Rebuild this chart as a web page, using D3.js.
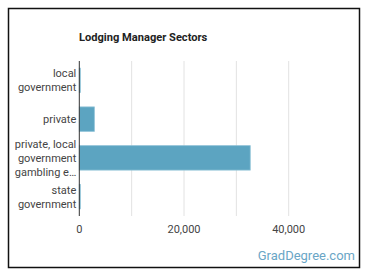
<!DOCTYPE html>
<html>
<head>
<meta charset="utf-8">
<script src="https://cdn.jsdelivr.net/npm/d3@7"></script>
<style>
  body { margin: 0; background: #fff; font-family: Roboto, "Noto Sans", sans-serif; }
</style>
</head>
<body>
<div id="chart"></div>
<script>
var sectors = [["local", "government"], ["private"], ["private, local", "government", "gambling e…"], ["state", "government"]];
var workers = [150, 2870, 32650, 180];
var xTicks = [0, 20000, 40000];
var gridTicks = [10000, 20000, 30000, 40000];

var width = 370, height = 278;
var margin = {left: 79, top: 61, right: 29, bottom: 62};

var svg = d3.select("#chart").append("svg")
    .attr("width", width)
    .attr("height", height);

// outer frame
svg.append("rect")
    .attr("x", 8.5).attr("y", 8.5)
    .attr("width", 351).attr("height", 259)
    .attr("fill", "#fff")
    .attr("stroke", "#111")
    .attr("stroke-width", 1.5);

svg.append("text")
    .attr("x", 79).attr("y", 41)
    .attr("font-size", 11.1)
    .attr("font-weight", "bold")
    .attr("fill", "#222")
    .text("Lodging Manager Sectors");

var x = d3.scaleLinear()
    .domain([0, 50000])
    .range([margin.left + 0.3, margin.left + 0.3 + 5 * 52.35]);

var y = d3.scaleBand()
    .domain(d3.range(sectors.length))
    .range([margin.top, height - margin.bottom])
    .paddingInner(0.37)
    .paddingOuter(0.185);

// grid
svg.append("g").selectAll("line")
    .data(gridTicks)
    .enter()
    .append("line")
    .attr("x1", function (d) { return x(d); })
    .attr("x2", function (d) { return x(d); })
    .attr("y1", margin.top)
    .attr("y2", height - margin.bottom)
    .attr("stroke", "#e2e2e2")
    .attr("stroke-width", 1);

svg.append("g").selectAll("rect")
    .data(workers)
    .enter()
    .append("rect")
    .attr("x", x(0))
    .attr("y", function (d, i) { return y(i); })
    .attr("width", function (d) { return Math.max(1, x(d) - x(0)); })
    .attr("height", y.bandwidth())
    .attr("fill", "#5ca4c1")
    .attr("stroke", "#8cc0d6")
    .attr("stroke-width", 0.8);

// axis line
svg.append("line")
    .attr("x1", x(0)).attr("x2", x(0))
    .attr("y1", margin.top).attr("y2", height - margin.bottom)
    .attr("stroke", "#333")
    .attr("stroke-width", 1);

// category labels
var labels = svg.append("g").selectAll("text")
    .data(sectors)
    .enter()
    .append("text")
    .attr("text-anchor", "end")
    .attr("font-size", 11)
    .attr("fill", "#444")
    .attr("x", x(0) - 3)
    .attr("y", function (d, i) { return y(i) + y.bandwidth() / 2 - (d.length - 1) * 7 + 4; });

labels.selectAll("tspan")
    .data(function (d) { return d; })
    .enter()
    .append("tspan")
    .attr("x", x(0) - 3)
    .attr("dy", function (d, i) { return i == 0 ? 0 : 14; })
    .text(function (d) { return d; });

// x tick labels
svg.append("g").selectAll("text")
    .data(xTicks)
    .enter()
    .append("text")
    .attr("x", function (d) { return x(d); })
    .attr("y", 233)
    .attr("text-anchor", "middle")
    .attr("font-size", 11)
    .attr("fill", "#444")
    .text(function (d) { return d3.format(",")(d); });

svg.append("text")
    .attr("x", 355).attr("y", 260)
    .attr("text-anchor", "end")
    .attr("font-size", 13)
    .attr("fill", "#6aa6c6")
    .text("GradDegree.com");
</script>
</body>
</html>
